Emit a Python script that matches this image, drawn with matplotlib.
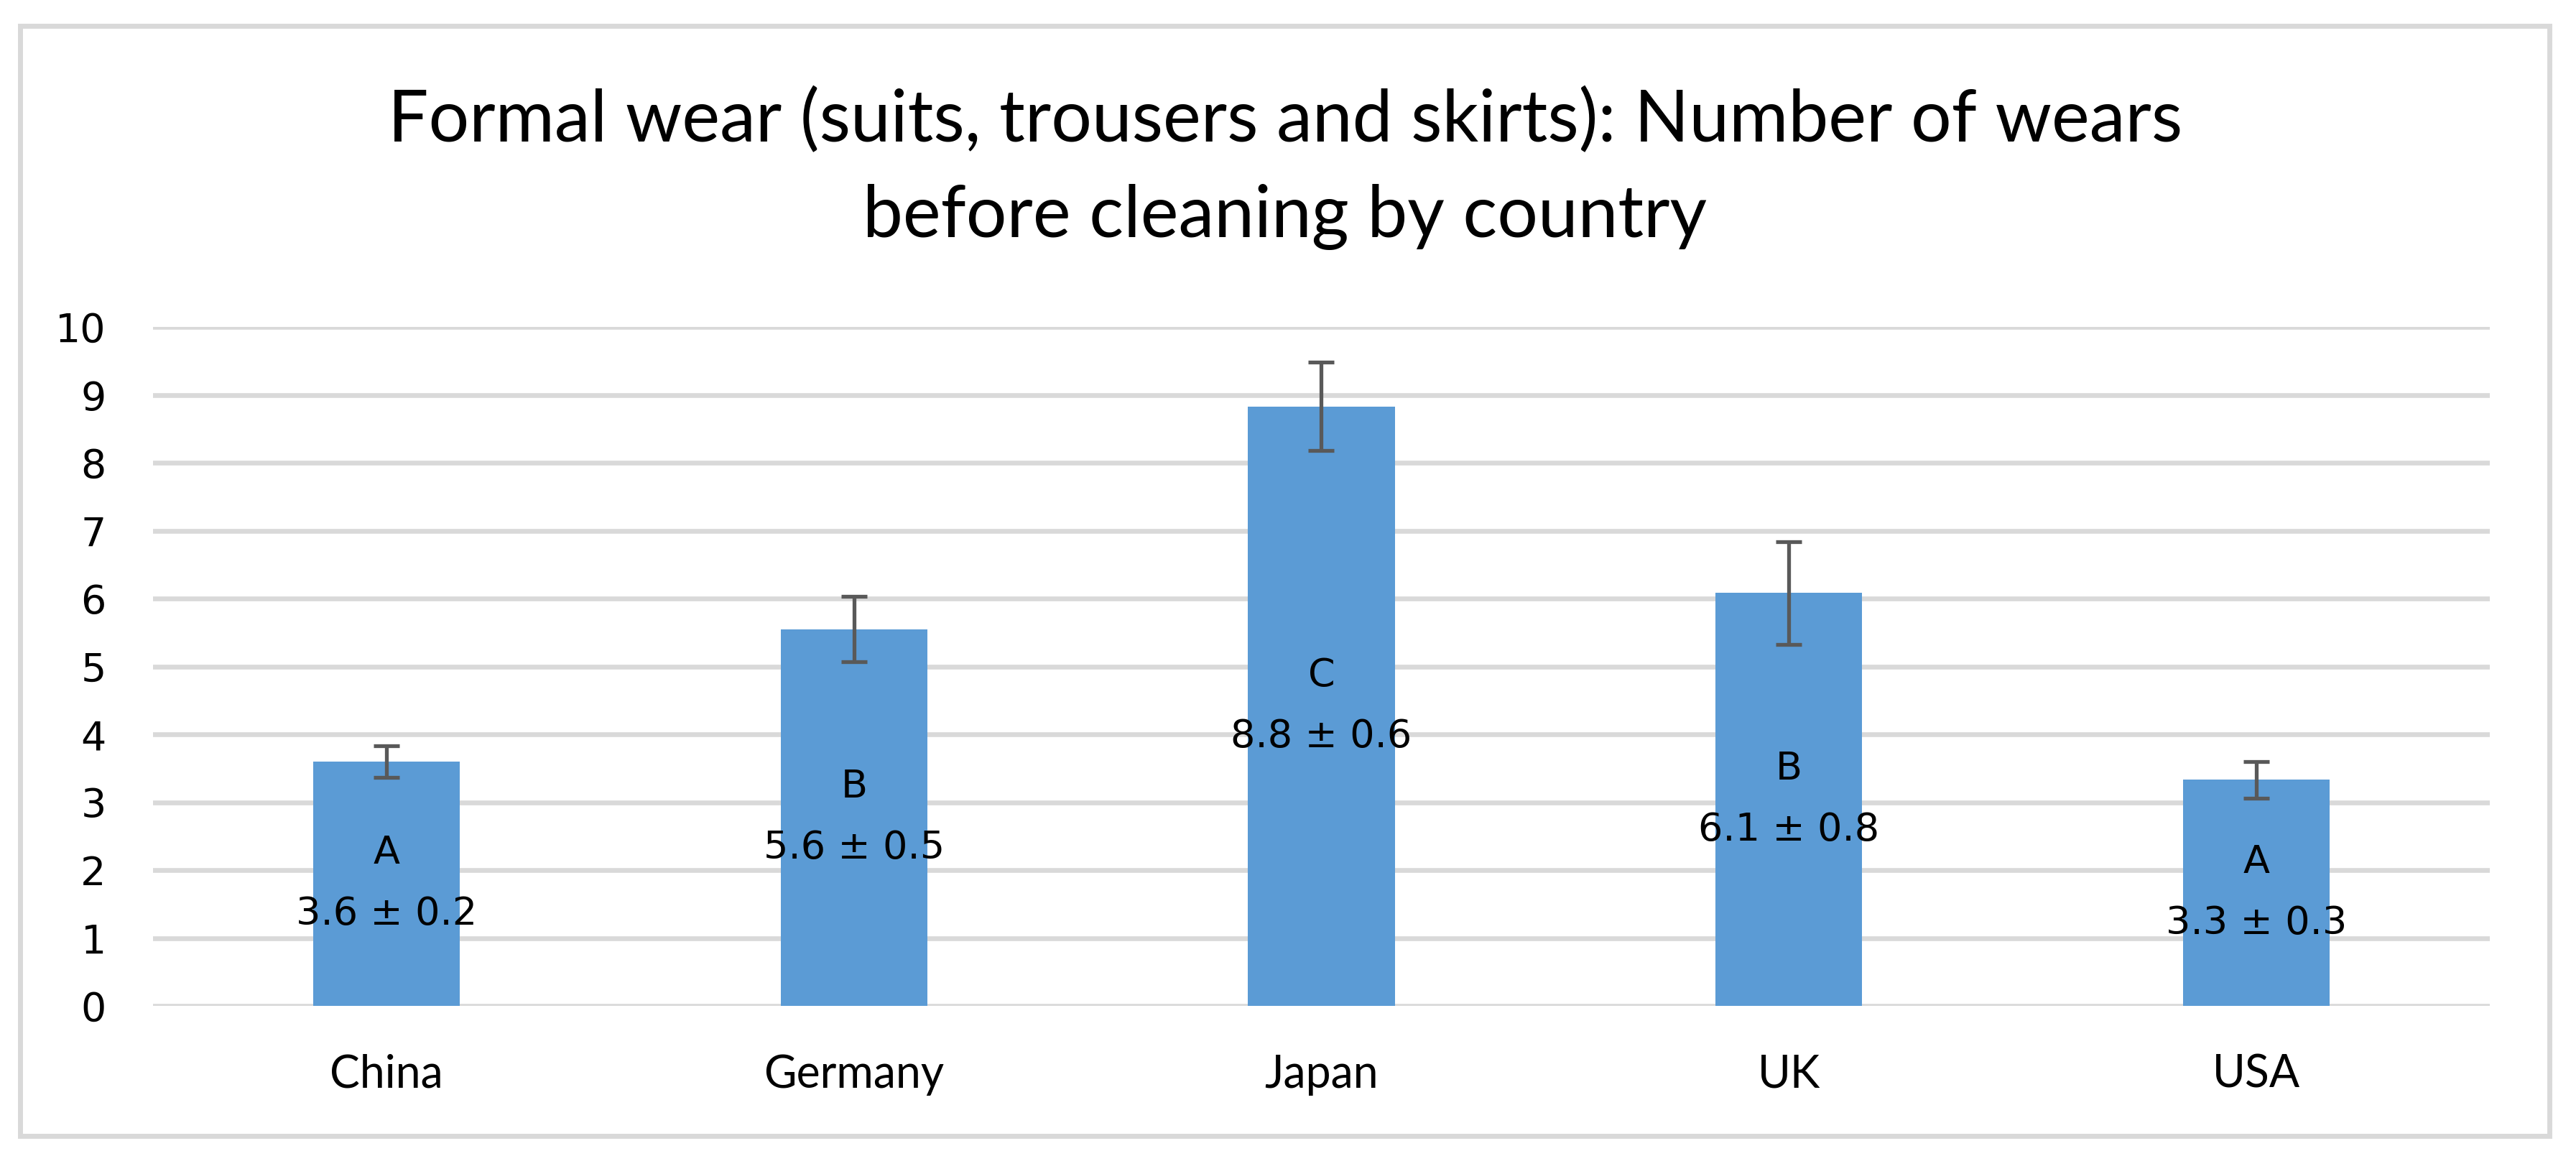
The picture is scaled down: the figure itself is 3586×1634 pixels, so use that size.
import matplotlib
matplotlib.use("Agg")
import matplotlib.pyplot as plt
from matplotlib.patches import Rectangle

countries = ["China", "Germany", "Japan", "UK", "USA"]
means = [3.6, 5.55, 8.83, 6.08, 3.33]
errors = [0.23, 0.48, 0.65, 0.76, 0.27]
groups = ["A", "B", "C", "B", "A"]
label_texts = ["3.6 \u00b1 0.2", "5.6 \u00b1 0.5", "8.8 \u00b1 0.6", "6.1 \u00b1 0.8", "3.3 \u00b1 0.3"]
yticks = list(range(0, 11))
title_line1 = "Formal wear (suits, trousers and skirts): Number of wears"
title_line2 = "before cleaning by country"

W, H = 3587, 1634
DPI = 100
fig = plt.figure(figsize=(W / DPI, H / DPI), dpi=DPI)
fig.patch.set_facecolor("white")

# outer chart border
border = Rectangle((28 / W, 1 - 1581 / H), (3549 - 28) / W, (1581 - 36) / H,
                   transform=fig.transFigure, fill=False, edgecolor="#d9d9d9",
                   linewidth=5.0, zorder=0)
fig.patches.append(border)

ax = fig.add_axes([213 / W, 1 - 1400 / H, (3466 - 213) / W, (1400 - 455) / H])
x = list(range(len(countries)))
ax.bar(x, means, width=0.314, color="#5b9bd5", zorder=2)
ax.errorbar(x, means, yerr=errors, fmt="none", ecolor="#595959",
            elinewidth=3.8, capsize=13, capthick=3.8, zorder=3)

for xi, m, g, t in zip(x, means, groups, label_texts):
    ax.text(xi, m / 2, g + "\n" + t, ha="center", va="center",
            fontsize=39, family="DejaVu Sans", linespacing=1.8,
            color="black", zorder=4)

ax.set_xlim(-0.5, len(countries) - 0.5)
ax.set_ylim(0, 10)
ax.set_yticks(yticks)
ax.set_yticklabels([str(v) for v in yticks], fontsize=40, family="DejaVu Sans")
ax.set_xticks(x)
ax.set_xticklabels(countries, fontsize=45, family="Lato")
ax.tick_params(axis="y", length=0, pad=47, colors="black")
ax.tick_params(axis="x", length=0, pad=48, colors="black")
ax.grid(axis="y", color="#d9d9d9", linewidth=4.8, zorder=0)
ax.set_axisbelow(True)
for s in ax.spines.values():
    s.set_visible(False)
ax.set_facecolor("none")

cx = 1789 / W
fig.text(cx, 1 - 197 / H, title_line1, ha="center", va="baseline",
         fontsize=72, family="Lato", color="black")
fig.text(cx, 1 - 330 / H, title_line2, ha="center", va="baseline",
         fontsize=72, family="Lato", color="black")

fig.savefig("out.png", dpi=DPI, facecolor="white")
